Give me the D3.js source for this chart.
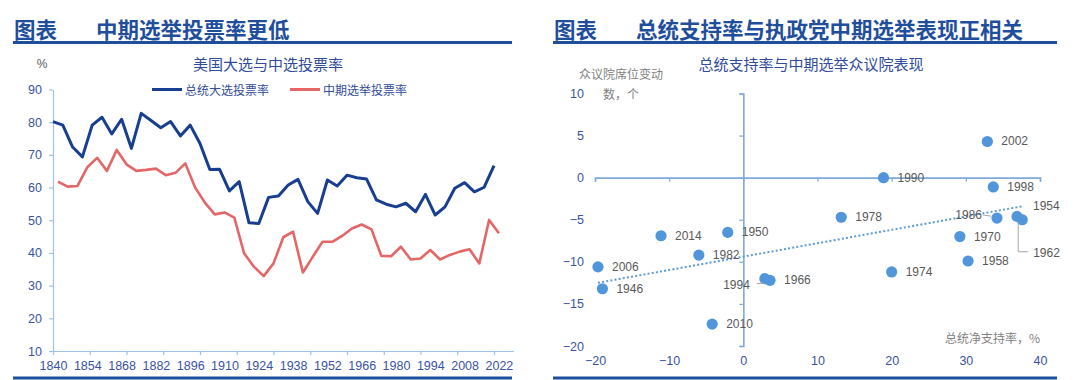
<!DOCTYPE html>
<html><head><meta charset="utf-8">
<script src="https://cdn.jsdelivr.net/npm/d3@7"></script>
<style>
html,body{margin:0;padding:0;background:#fff;}
svg{display:block;font-family:"Liberation Sans",Arial,"Noto Sans CJK SC",sans-serif;}
</style></head>
<body>
<svg id="c" width="1080" height="380"></svg>
<script>
// ---------- DATA ----------
const presYears = d3.range(1840, 2021, 4);
const presTurnout = [80.2,79.1,72.4,69.4,79.1,81.5,76.4,80.9,72.0,82.7,80.5,78.3,80.2,75.8,79.1,73.5,65.5,65.6,59.0,61.8,
  49.2,49.0,57.0,57.4,60.8,62.5,55.7,52.1,62.3,60.5,63.8,63.0,62.6,56.2,54.9,54.1,55.2,52.6,57.9,51.6,54.1,59.8,61.5,58.7,60.1,66.7];
const midYears = d3.range(1842, 2023, 4);
const midTurnout = [61.8,60.3,60.5,66.2,69.1,65.1,71.5,67.1,65.1,65.4,65.8,63.8,64.5,67.4,60.0,55.4,51.8,52.4,50.8,39.9,
  35.8,32.9,36.8,44.8,46.5,34.0,38.8,43.4,43.4,45.2,47.5,48.7,47.2,39.1,39.0,41.9,38.0,38.3,40.9,38.0,39.4,40.4,41.1,36.8,50.1,46.0];
const seriesNames = ["总统大选投票率","中期选举投票率"];
const yTicksL = [10,20,30,40,50,60,70,80,90];
const xLabelYears = d3.range(1840, 2023, 14);
const xTickMarkYears = d3.range(1840, 2021, 15);

const scatterYears = [2002,1990,1998,1978,1986,1954,1962,1970,1958,1974,2014,1950,1982,2006,1946,1994,1966,2010];
const netApproval = [32.9,18.9,33.7,13.2,34.2,36.9,37.6,29.2,30.3,20.0,-11.1,-2.1,-6.0,-19.6,-19.0,2.9,3.6,-4.2];
const seatChange = [4.3,0.0,-1.1,-4.7,-4.8,-4.6,-5.0,-7.0,-9.9,-11.2,-6.9,-6.5,-9.2,-10.6,-13.2,-12.0,-12.2,-17.4];
const xTicksR = [-20,-10,0,10,20,30,40];
const yTicksR = [-20,-15,-10,-5,0,5,10];

// ---------- STYLE / LAYOUT ----------
const NAVY = "#1f4e9c", TXT = "#2f4b9a", TICK = "#3953a4";
const svg = d3.select("#c");
const CJK = '"Noto Sans CJK SC","Liberation Sans",sans-serif';

function header(x0, x1, title) {
  svg.append("text").attr("x", x0 + 1).attr("y", 28).attr("dominant-baseline","central")
    .attr("font-family", CJK).attr("font-weight", 700).attr("font-size", 21.5).attr("fill", NAVY).text("图表");
  svg.append("text").attr("x", x0 + 83).attr("y", 28).attr("dominant-baseline","central")
    .attr("font-family", CJK).attr("font-weight", 700).attr("font-size", 21.5).attr("fill", NAVY).text(title);
  svg.append("line").attr("x1", x0).attr("x2", x1).attr("y1", 42.5).attr("y2", 42.5)
    .attr("stroke", NAVY).attr("stroke-width", 3);
  svg.append("line").attr("x1", x0).attr("x2", x1).attr("y1", 378).attr("y2", 378)
    .attr("stroke", NAVY).attr("stroke-width", 3);
}
header(13, 512, "中期选举投票率更低");
header(553, 1057, "总统支持率与执政党中期选举表现正相关");

// ---------- LEFT CHART ----------
const xL = d3.scaleLinear().domain([1840, 2028]).range([53, 513.6]);
const yL = d3.scaleLinear().domain([10, 90]).range([351, 89.5]);
const gL = svg.append("g");

svg.append("text").attr("x", 268).attr("y", 63).attr("text-anchor","middle").attr("dominant-baseline","central")
  .attr("font-family", CJK).attr("font-size", 15).attr("fill", TXT).text("美国大选与中选投票率");
svg.append("text").attr("x", 42).attr("y", 64).attr("text-anchor","middle").attr("dominant-baseline","central")
  .attr("font-size", 12).attr("fill", "#595959").text("%");

// y axis
const yAxL = gL.append("g").attr("transform", `translate(${xL(1840)},0)`)
  .call(d3.axisLeft(yL).tickValues(yTicksL).tickSize(4).tickSizeOuter(0).tickPadding(7));
// x axis (labels)
const xAxL = gL.append("g").attr("transform", `translate(0,${yL(10)})`)
  .call(d3.axisBottom(xL).tickValues(xLabelYears).tickFormat(d3.format("d")).tickSize(0).tickPadding(10.5));
// x axis tick marks
const xTmL = gL.append("g").attr("transform", `translate(0,${yL(10)})`)
  .call(d3.axisBottom(xL).tickValues(xTickMarkYears).tickFormat("").tickSize(4).tickSizeOuter(0));
xTmL.select(".domain").remove();
[yAxL, xAxL, xTmL].forEach(g => {
  g.selectAll(".domain").attr("stroke", "#9dc3e6").attr("stroke-width", 1.2);
  g.selectAll(".tick line").attr("stroke", "#9dc3e6").attr("stroke-width", 1.2);
  g.selectAll("text").attr("fill", TICK).attr("font-size", 12.5);
});

const lineL = d3.line().x(d => xL(d[0])).y(d => yL(d[1]));
gL.append("path").datum(presYears.map((y, i) => [y, presTurnout[i]]))
  .attr("d", lineL).attr("fill","none").attr("stroke","#183f8f").attr("stroke-width",3).attr("stroke-linejoin","round");
gL.append("path").datum(midYears.map((y, i) => [y, midTurnout[i]]))
  .attr("d", lineL).attr("fill","none").attr("stroke","#e46666").attr("stroke-width",2.6).attr("stroke-linejoin","round");

// legend
const legColors = ["#183f8f","#e46666"], legX = [152, 290];
seriesNames.forEach((n, i) => {
  gL.append("line").attr("x1", legX[i]).attr("x2", legX[i] + 30).attr("y1", 89.5).attr("y2", 89.5)
    .attr("stroke", legColors[i]).attr("stroke-width", 3);
  gL.append("text").attr("x", legX[i] + 33).attr("y", 89.5).attr("dominant-baseline","central")
    .attr("font-family", CJK).attr("font-size", 12).attr("fill", TXT).text(n);
});

// ---------- RIGHT CHART ----------
const xR = d3.scaleLinear().domain([-20, 40]).range([595, 1040]);
const yR = d3.scaleLinear().domain([-20, 10]).range([346, 93.5]);
const gR = svg.append("g");
const AX = "#7fa9da";

svg.append("text").attr("x", 811).attr("y", 63).attr("text-anchor","middle").attr("dominant-baseline","central")
  .attr("font-family", CJK).attr("font-size", 15).attr("fill", TXT).text("总统支持率与中期选举众议院表现");
svg.append("text").attr("x", 579).attr("y", 73).attr("dominant-baseline","central")
  .attr("font-family", CJK).attr("font-size", 12).attr("fill", "#7f7f7f").text("众议院席位变动");
svg.append("text").attr("x", 603).attr("y", 93.5).attr("dominant-baseline","central")
  .attr("font-family", CJK).attr("font-size", 12).attr("fill", "#7f7f7f").text("数，个");
svg.append("text").attr("x", 1040).attr("y", 337.5).attr("text-anchor","end").attr("dominant-baseline","central")
  .attr("font-family", CJK).attr("font-size", 12).attr("fill", "#7f7f7f").text("总统净支持率，%");

// tick labels
const yLabR = gR.append("g").attr("transform", `translate(${xR(-20)},0)`)
  .call(d3.axisLeft(yR).tickValues(yTicksR).tickSize(0).tickPadding(11));
const xLabR = gR.append("g").attr("transform", `translate(0,${yR(-20)})`)
  .call(d3.axisBottom(xR).tickValues(xTicksR).tickSize(0).tickPadding(10.5));
[yLabR, xLabR].forEach(g => {
  g.select(".domain").remove();
  g.selectAll("text").attr("fill", TICK).attr("font-size", 12.5);
});
// axis lines crossing at 0
const yAxR = gR.append("g").attr("transform", `translate(${xR(0)},0)`)
  .call(d3.axisLeft(yR).tickValues(yTicksR).tickFormat("").tickSize(4).tickSizeOuter(4));
const xAxR = gR.append("g").attr("transform", `translate(0,${yR(0)})`)
  .call(d3.axisBottom(xR).tickValues(xTicksR).tickFormat("").tickSize(4).tickSizeOuter(4));
[yAxR, xAxR].forEach(g => {
  g.selectAll(".domain").attr("stroke", AX).attr("stroke-width", 1.6);
  g.selectAll(".tick line").attr("stroke", AX).attr("stroke-width", 1.2);
});

// trend line (least squares)
const mx = d3.mean(netApproval), my = d3.mean(seatChange);
const slope = d3.sum(netApproval, (x, i) => (x - mx) * (seatChange[i] - my)) / d3.sum(netApproval, x => (x - mx) ** 2);
const icpt = my - slope * mx;
const [xmin, xmax] = d3.extent(netApproval);
gR.append("line").attr("x1", xR(xmin)).attr("y1", yR(icpt + slope * xmin))
  .attr("x2", xR(xmax)).attr("y2", yR(icpt + slope * xmax))
  .attr("stroke", "#5b9bd5").attr("stroke-width", 2).attr("stroke-dasharray", "2,2.2");

// points
const pts = scatterYears.map((yr, i) => ({yr, x: netApproval[i], y: seatChange[i]}));
gR.selectAll("circle.p").data(pts).join("circle").attr("class","p")
  .attr("cx", d => xR(d.x)).attr("cy", d => yR(d.y)).attr("r", 5.6).attr("fill", "#5195da");

// label layout (offsets only)
const labelPos = {
  1954: {dx: 16, dy: -10},
  1962: {dx: 11, dy: 33, leader: [[-4,3],[-4,32],[6,32]]},
  1986: {dx: -15, dy: -3, anchor: "end", leader: [[-14,-3],[-6,-2]]},
  1994: {dx: -15, dy: 6, anchor: "end", leader: [[-8,5],[-1,4.5]]}
};
pts.forEach(d => {
  const p = labelPos[d.yr] || {dx: 14, dy: 0};
  const cx = xR(d.x), cy = yR(d.y);
  if (p.leader) {
    gR.append("path").attr("d", d3.line()(p.leader.map(q => [cx + q[0], cy + q[1]])))
      .attr("fill","none").attr("stroke","#a6a6a6").attr("stroke-width",1);
  }
  gR.append("text").attr("x", cx + p.dx).attr("y", cy + p.dy).attr("dominant-baseline","central")
    .attr("text-anchor", p.anchor || "start").attr("font-size", 12).attr("fill", "#595959").text(d.yr);
});
</script>
</body></html>
